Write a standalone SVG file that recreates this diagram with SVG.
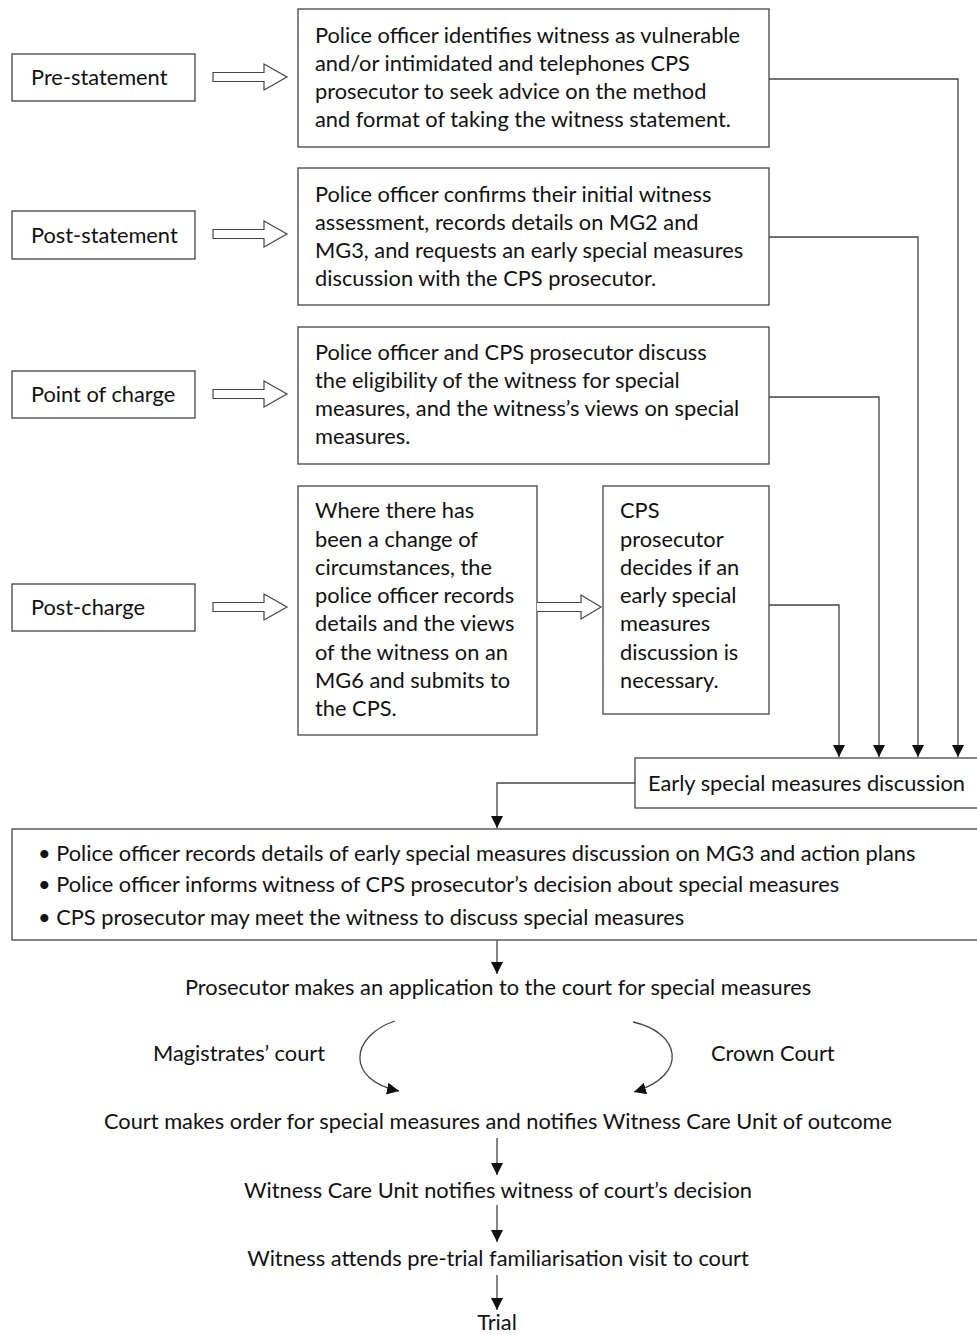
<svg xmlns="http://www.w3.org/2000/svg" width="977" height="1335" viewBox="0 0 977 1335">
<style>
  .box { fill: #ffffff; stroke: #444444; stroke-width: 1.3; }
  .t { font-family: Lato, "Open Sans", "Liberation Sans", sans-serif; font-size: 21.8px; fill: #111111; }
  .c { text-anchor: middle; }
  .ln { fill: none; stroke: #444444; stroke-width: 1.3; }
  .hollow { fill: #ffffff; stroke: #444444; stroke-width: 1.2; }
</style>
<defs>
  <marker id="ah" viewBox="0 0 10 10" refX="10" refY="5" markerWidth="12" markerHeight="12" markerUnits="userSpaceOnUse" orient="auto">
    <path d="M0,0 L10,5 L0,10 Z" fill="#111111"/>
  </marker>
  <path id="hollowArrow" d="M0,-4.5 L51,-4.5 L51,-13 L74,0 L51,13 L51,4.5 L0,4.5 Z"/>
</defs>
<rect width="977" height="1335" fill="#ffffff"/>

<g id="stage-pre-statement">
  <rect class="box" x="12" y="54" width="183" height="47"/>
  <text class="t" x="31" y="85">Pre-statement</text>
</g>
<g id="stage-post-statement">
  <rect class="box" x="12" y="211" width="183" height="48"/>
  <text class="t" x="31" y="243">Post-statement</text>
</g>
<g id="stage-point-of-charge">
  <rect class="box" x="12" y="371" width="183" height="47"/>
  <text class="t" x="31" y="402">Point of charge</text>
</g>
<g id="stage-post-charge">
  <rect class="box" x="12" y="584" width="183" height="47"/>
  <text class="t" x="31" y="615">Post-charge</text>
</g>

<g id="box-1">
  <rect class="box" x="298" y="9" width="471" height="138"/>
  <text class="t" x="315" y="43">Police officer identifies witness as vulnerable</text>
  <text class="t" x="315" y="71">and/or intimidated and telephones CPS</text>
  <text class="t" x="315" y="99">prosecutor to seek advice on the method</text>
  <text class="t" x="315" y="127">and format of taking the witness statement.</text>
</g>
<g id="box-2">
  <rect class="box" x="298" y="168" width="471" height="137"/>
  <text class="t" x="315" y="202">Police officer confirms their initial witness</text>
  <text class="t" x="315" y="230">assessment, records details on MG2 and</text>
  <text class="t" x="315" y="258">MG3, and requests an early special measures</text>
  <text class="t" x="315" y="286">discussion with the CPS prosecutor.</text>
</g>
<g id="box-3">
  <rect class="box" x="298" y="327" width="471" height="137"/>
  <text class="t" x="315" y="360">Police officer and CPS prosecutor discuss</text>
  <text class="t" x="315" y="388">the eligibility of the witness for special</text>
  <text class="t" x="315" y="416">measures, and the witness’s views on special</text>
  <text class="t" x="315" y="444">measures.</text>
</g>
<g id="box-4">
  <rect class="box" x="298" y="486" width="239" height="249"/>
  <text class="t" x="315" y="518">Where there has</text>
  <text class="t" x="315" y="547">been a change of</text>
  <text class="t" x="315" y="575">circumstances, the</text>
  <text class="t" x="315" y="603">police officer records</text>
  <text class="t" x="315" y="631">details and the views</text>
  <text class="t" x="315" y="660">of the witness on an</text>
  <text class="t" x="315" y="688">MG6 and submits to</text>
  <text class="t" x="315" y="716">the CPS.</text>
</g>
<g id="box-5">
  <rect class="box" x="603" y="486" width="166" height="228"/>
  <text class="t" x="620" y="518">CPS</text>
  <text class="t" x="620" y="547">prosecutor</text>
  <text class="t" x="620" y="575">decides if an</text>
  <text class="t" x="620" y="603">early special</text>
  <text class="t" x="620" y="631">measures</text>
  <text class="t" x="620" y="660">discussion is</text>
  <text class="t" x="620" y="688">necessary.</text>
</g>
<g id="early-discussion">
  <rect class="box" x="635" y="758" width="350" height="50"/>
  <text class="t" x="648" y="791">Early special measures discussion</text>
</g>
<g id="actions">
  <rect class="box" x="12" y="829" width="975" height="111"/>
  <text class="t" x="38" y="861">• Police officer records details of early special measures discussion on MG3 and action plans</text>
  <text class="t" x="38" y="892">• Police officer informs witness of CPS prosecutor’s decision about special measures</text>
  <text class="t" x="38" y="925">• CPS prosecutor may meet the witness to discuss special measures</text>
</g>
<g id="application">
  <text class="t c" x="498" y="995">Prosecutor makes an application to the court for special measures</text>
</g>
<g id="magistrates">
  <text class="t" x="153" y="1061">Magistrates’ court</text>
</g>
<g id="crown">
  <text class="t" x="711" y="1061">Crown Court</text>
</g>
<g id="court-order">
  <text class="t c" x="498" y="1129">Court makes order for special measures and notifies Witness Care Unit of outcome</text>
</g>
<g id="wcu">
  <text class="t c" x="498" y="1198">Witness Care Unit notifies witness of court’s decision</text>
</g>
<g id="familiarisation">
  <text class="t c" x="498" y="1266">Witness attends pre-trial familiarisation visit to court</text>
</g>
<g id="trial">
  <text class="t c" x="497" y="1330">Trial</text>
</g>

<g id="connectors">
  <use href="#hollowArrow" class="hollow" transform="translate(213,77)"/>
  <use href="#hollowArrow" class="hollow" transform="translate(213,234)"/>
  <use href="#hollowArrow" class="hollow" transform="translate(213,394)"/>
  <use href="#hollowArrow" class="hollow" transform="translate(213,607)"/>
  <path class="hollow" d="M537,602.5 L581,602.5 L581,595 L601,607 L581,619 L581,611.5 L537,611.5"/>

  <polyline class="ln" points="769,79 958,79 958,757" marker-end="url(#ah)"/>
  <polyline class="ln" points="769,237 918,237 918,757" marker-end="url(#ah)"/>
  <polyline class="ln" points="769,397 879,397 879,757" marker-end="url(#ah)"/>
  <polyline class="ln" points="769,605 839,605 839,757" marker-end="url(#ah)"/>

  <polyline class="ln" points="635,783 497,783 497,828" marker-end="url(#ah)"/>
  <line class="ln" x1="497" y1="940" x2="497" y2="974" marker-end="url(#ah)"/>

  <path class="ln" d="M395,1021 C350,1036 345,1080 399,1091" marker-end="url(#ah)"/>
  <path class="ln" d="M633,1022 C680,1032 690,1075 634,1092" marker-end="url(#ah)"/>

  <line class="ln" x1="497" y1="1138" x2="497" y2="1175" marker-end="url(#ah)"/>
  <line class="ln" x1="497" y1="1205" x2="497" y2="1242" marker-end="url(#ah)"/>
  <line class="ln" x1="497" y1="1275" x2="497" y2="1310" marker-end="url(#ah)"/>
</g>
</svg>
